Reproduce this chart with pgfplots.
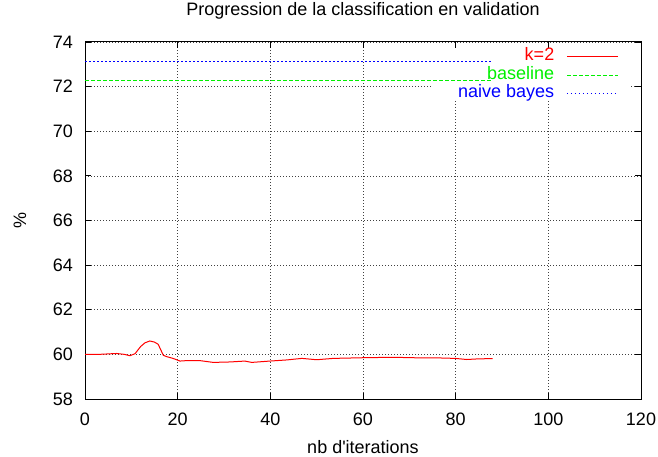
\documentclass[border=0pt]{standalone}
\usepackage{pgfplots}
\pgfplotsset{compat=1.18}
\usepackage{fontspec}
\setmainfont{Liberation Sans}
\definecolor{gpred}{RGB}{255,0,0}
\definecolor{gpgreen}{RGB}{0,240,0}
\definecolor{gpblue}{RGB}{0,0,255}
\begin{document}
\begin{tikzpicture}[font=\fontsize{18bp}{21bp}\selectfont]
\begin{axis}[
  scale only axis,
  width=556bp, height=357bp,
  xmin=0, xmax=120, ymin=58, ymax=74,
  xtick={0,20,...,120}, ytick={58,60,...,74},
  /pgf/number format/assume math mode=true,
  tick align=inside,
  major tick length=6bp,
  minor tick num=0,
  axis line style={black, line width=1bp},
  tick style={black, line width=0.8bp},
  grid=major,
  major grid style={black!75, line width=0.7bp, dash pattern=on 1bp off 2bp},
  xticklabel style={inner sep=0pt, yshift=-14bp},
  yticklabel style={inner sep=0pt, xshift=-12bp},
  title={Progression de la classification en validation},
  title style={at={(axis description cs:0.5,1)}, anchor=base, yshift=21bp, inner sep=0pt},
  xlabel={nb d\textquotesingle iterations},
  xlabel style={at={(axis description cs:0.5,0)}, anchor=base, yshift=-54bp, inner sep=0pt},
  ylabel={\%},
  ylabel style={at={(axis description cs:-0.117,0.5)}, anchor=center, inner sep=0pt},
  legend plot pos=right,
  legend cell align=right,
  legend image code/.code={\path (0bp,0bp); \draw[#1] (12bp,0bp) -- (63bp,0bp);},
  legend style={at={(axis description cs:0.960,0.981)}, anchor=north east,
    draw=none, fill=none, inner sep=0pt, row sep=2.3bp, column sep=0pt,
    nodes={inner sep=0pt, text height=12bp, text depth=4bp}},
  set layers,
]
\begin{pgfonlayer}{axis ticks}
  \fill[white] (axis cs:75.2,73.69) rectangle (axis cs:117.5,71.35);
\end{pgfonlayer}
\addplot[gpred, line width=1bp] coordinates {
(0,60.0) (3,60.0) (6.8,60.04) (8.5,60.0) (9.7,59.94) (10.8,60.03) (12.0,60.35) (12.95,60.52)
(14.0,60.60) (15.0,60.55) (15.8,60.45) (16.9,59.96) (17.6,59.90) (19,59.82) (20.5,59.70)
(21.9,59.72) (24.8,59.72) (27.7,59.64) (31.3,59.66) (34.5,59.70) (36.0,59.64) (39.9,59.70)
(43.5,59.75) (46.8,59.82) (50.0,59.76) (53.6,59.82) (60.1,59.85) (66.5,59.87) (73.0,59.84)
(76.5,59.84) (79.9,59.82) (82.4,59.77) (85,59.80) (88.0,59.81)
};
\addlegendentry{\textcolor{gpred}{k=2}}
\addplot[gpgreen, line width=1.3bp, dash pattern=on 4bp off 2bp] coordinates {(0,72.27) (88,72.27)};
\addlegendentry{\textcolor{gpgreen}{baseline}}
\addplot[gpblue, line width=1.2bp, dash pattern=on 1.5bp off 2.5bp] coordinates {(0,73.12) (88,73.12)};
\addlegendentry{\textcolor{gpblue}{naive bayes}}
\end{axis}
\pgfresetboundingbox
\path[use as bounding box] (-85bp,-58bp) rectangle (573bp,399bp);
\end{tikzpicture}
\end{document}
